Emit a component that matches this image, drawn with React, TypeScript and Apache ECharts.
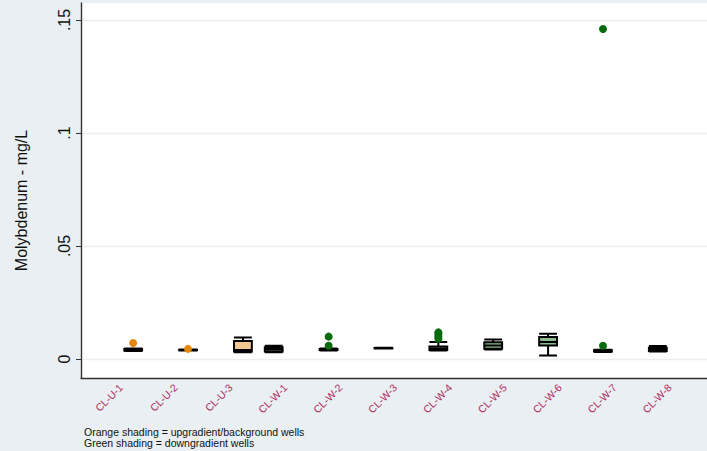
import React, { useEffect, useRef } from 'react';
import * as echarts from 'echarts';

const wells = ['CL-U-1', 'CL-U-2', 'CL-U-3', 'CL-W-1', 'CL-W-2', 'CL-W-3', 'CL-W-4', 'CL-W-5', 'CL-W-6', 'CL-W-7', 'CL-W-8'];

// [min, Q1, median, Q3, max] in mg/L
const upgradientWells = ['CL-U-1', 'CL-U-2', 'CL-U-3'];
const upgradientStats = [
  [0.0036, 0.0038, 0.004, 0.0044, 0.0047],
  [0.0038, 0.0039, 0.004, 0.0041, 0.0042],
  [0.003, 0.0033, 0.004, 0.008, 0.0095],
];
const downgradientWells = ['CL-W-1', 'CL-W-2', 'CL-W-3', 'CL-W-4', 'CL-W-5', 'CL-W-6', 'CL-W-7', 'CL-W-8'];
const downgradientStats = [
  [0.003, 0.0033, 0.0043, 0.0052, 0.0059],
  [0.0038, 0.004, 0.0042, 0.0044, 0.0046],
  [0.0046, 0.0047, 0.0048, 0.0049, 0.005],
  [0.0038, 0.004, 0.0045, 0.0055, 0.0075],
  [0.0042, 0.0045, 0.006, 0.0074, 0.0086],
  [0.0015, 0.006, 0.0075, 0.0097, 0.0112],
  [0.0031, 0.0033, 0.0036, 0.0039, 0.0041],
  [0.0033, 0.0036, 0.0042, 0.005, 0.0058],
];

const upgradientOutlierWells = ['CL-U-1', 'CL-U-2'];
const upgradientOutlierValues = [0.0071, 0.0045];
const downgradientOutlierWells = ['CL-W-2', 'CL-W-2', 'CL-W-4', 'CL-W-4', 'CL-W-4', 'CL-W-4', 'CL-W-7', 'CL-W-7'];
const downgradientOutlierValues = [0.0099, 0.0059, 0.0118, 0.011, 0.0098, 0.009, 0.0059, 0.146];

const yTicks = [0, 0.05, 0.1, 0.15];
const yMin = -0.0084;
const yMax = 0.1575;

const yTitle = 'Molybdenum - mg/L';
const notes = ['Orange shading = upgradient/background wells', 'Green shading = downgradient wells'];

const ORANGE = '#e5870c';
const ORANGE_FILL = '#f5c891';
const GREEN = '#0a6a0e';
const GREEN_FILL = '#8dbb8c';
const LABEL_RED = '#b02c60';
const BG = '#e9eff2';

export default function App() {
  const ref = useRef<HTMLDivElement>(null);
  useEffect(() => {
    if (!ref.current) return;
    const chart = echarts.init(ref.current, undefined, { renderer: 'svg' });

    const blank = ['-', '-', '-', '-', '-'];
    const upData = wells.map((w) => {
      const i = upgradientWells.indexOf(w);
      return i >= 0 ? upgradientStats[i] : blank;
    });
    const downData = wells.map((w) => {
      const i = downgradientWells.indexOf(w);
      return i >= 0 ? downgradientStats[i] : blank;
    });
    const upOut = upgradientOutlierWells.map((w, i) => [w, upgradientOutlierValues[i]]);
    const downOut = downgradientOutlierWells.map((w, i) => [w, downgradientOutlierValues[i]]);

    const fmt = (v: number) => (v === 0 ? '0' : String(+v.toFixed(3)).replace(/^0/, ''));

    chart.setOption({
      animation: false,
      backgroundColor: BG,
      textStyle: { fontFamily: 'Liberation Sans, Arial, sans-serif' },
      grid: [
        { left: 81, right: 0, top: 3, bottom: 73, show: true, backgroundColor: '#ffffff', borderWidth: 0 },
        { left: 93.7, right: 9.7, top: 3, bottom: 73 },
      ],
      xAxis: [
        {
          gridIndex: 0,
          type: 'value',
          min: 0,
          max: 1,
          axisLine: { show: true, onZero: false, lineStyle: { color: '#333', width: 1.4 } },
          axisTick: { show: false },
          axisLabel: { show: false },
          splitLine: { show: false },
        },
        {
          gridIndex: 1,
          type: 'category',
          data: wells,
          axisLine: { show: false },
          axisTick: { show: false },
          splitLine: { show: false },
          axisLabel: { rotate: 45, color: LABEL_RED, fontSize: 10.5, margin: 8, interval: 0 },
        },
      ],
      yAxis: [
        {
          gridIndex: 0,
          type: 'value',
          min: yMin,
          max: yMax,
          name: yTitle,
          nameLocation: 'middle',
          nameGap: 52,
          nameTextStyle: { fontSize: 16, color: '#111', padding: [0, 20, 0, 0] },
          axisLine: { show: true, lineStyle: { color: '#333', width: 1.4 } },
          axisTick: { show: true, length: 5, customValues: yTicks, lineStyle: { color: '#333' } },
          axisLabel: { rotate: 90, customValues: yTicks, formatter: fmt, fontSize: 16, color: '#111', margin: 9 },
          splitLine: { show: true, lineStyle: { color: '#e8eef1', width: 1.3 } },
        },
        { gridIndex: 1, type: 'value', min: yMin, max: yMax, show: false },
      ],
      series: [
        {
          type: 'boxplot',
          xAxisIndex: 1,
          yAxisIndex: 1,
          data: downData,
          itemStyle: { color: GREEN_FILL, borderColor: '#000', borderWidth: 2 },
        },
        {
          type: 'boxplot',
          xAxisIndex: 1,
          yAxisIndex: 1,
          data: upData,
          itemStyle: { color: ORANGE_FILL, borderColor: '#000', borderWidth: 2 },
        },
        {
          type: 'scatter',
          xAxisIndex: 1,
          yAxisIndex: 1,
          data: upOut,
          symbolSize: 8,
          symbolOffset: [12, 0],
          itemStyle: { color: ORANGE, opacity: 1 },
        },
        {
          type: 'scatter',
          xAxisIndex: 1,
          yAxisIndex: 1,
          data: downOut,
          symbolSize: 8,
          symbolOffset: [-12, 0],
          itemStyle: { color: GREEN, opacity: 1 },
        },
      ],
      graphic: notes.map((t, i) => ({
        type: 'text',
        left: 84,
        top: 426 + i * 11,
        style: { text: t, fontSize: 10.5, fill: '#111', fontFamily: 'Liberation Sans, Arial, sans-serif' },
      })),
    });
    return () => chart.dispose();
  }, []);
  return <div ref={ref} style={{ position: 'absolute', left: 0, top: 0, width: 707, height: 451 }} />;
}
